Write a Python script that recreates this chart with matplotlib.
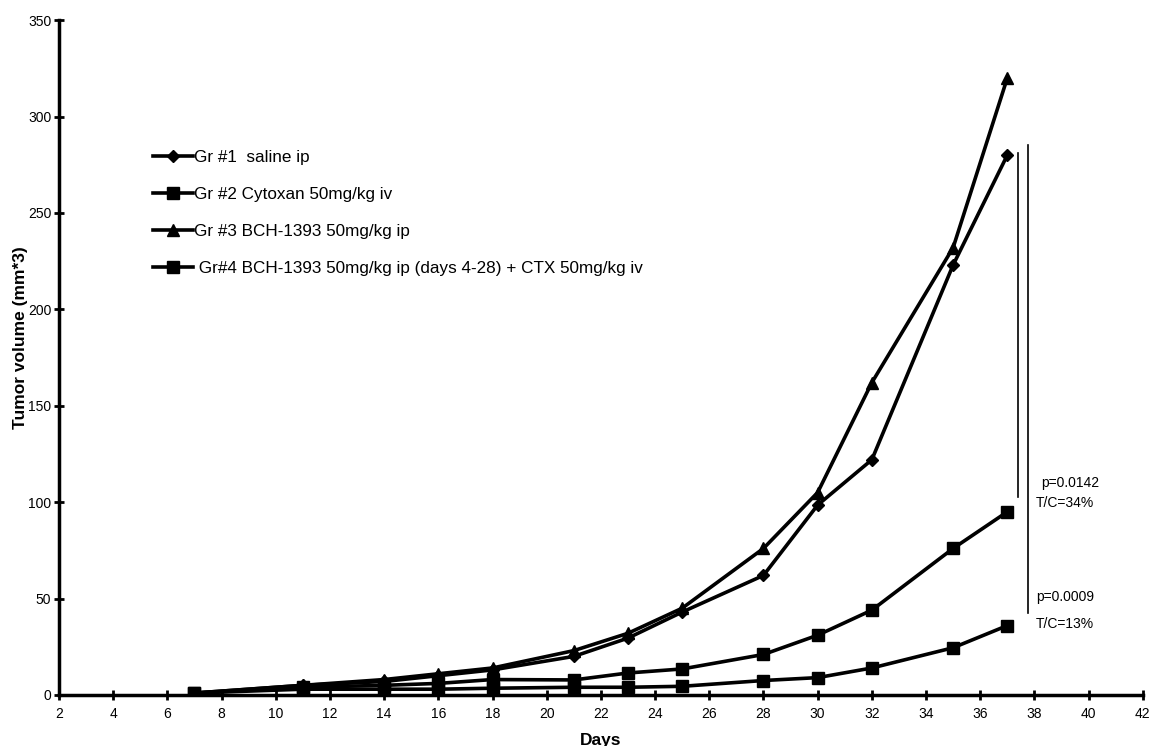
import matplotlib
matplotlib.use('Agg')
import matplotlib.pyplot as plt

plt.rcParams['font.family'] = ['Liberation Sans', 'DejaVu Sans']

# Datos
days = [7, 11, 14, 16, 18, 21, 23, 25, 28, 30, 32, 35, 37]
gr1 = [1, 5, 7, 10, 13, 20, 29.5, 43, 62, 98.5, 122, 223, 280]
gr2 = [1, 4, 5, 6, 8, 7.8, 11.4, 13.5, 21, 31, 44, 76, 95]
gr3 = [1, 5, 8, 11, 14, 23, 32, 45, 76, 105, 162, 232, 320]
gr4 = [1, 3, 3, 3, 3.5, 4, 4, 4.5, 7.5, 9, 14, 24.5, 36]

labels = ['Gr #1  saline ip',
          'Gr #2 Cytoxan 50mg/kg iv',
          'Gr #3 BCH-1393 50mg/kg ip',
          ' Gr#4 BCH-1393 50mg/kg ip (days 4-28) + CTX 50mg/kg iv']

fig = plt.figure(figsize=(11.52, 7.46), dpi=100)
ax = fig.add_axes([0.0512, 0.0684, 0.9408, 0.9046])

kw = dict(color='black', linewidth=2.6)
ax.plot(days, gr1, marker='D', markersize=6.5, label=labels[0], **kw)
ax.plot(days, gr2, marker='s', markersize=8, label=labels[1], **kw)
ax.plot(days, gr3, marker='^', markersize=9, label=labels[2], **kw)
ax.plot(days, gr4, marker='s', markersize=9, label=labels[3], **kw)

# Lineas de comparacion
ax.plot([37.4, 37.4], [281, 102.6], color='black', linewidth=1.2)
ax.plot([37.75, 37.75], [285, 42.5], color='black', linewidth=1.2)
ax.text(38.25, 110, 'p=0.0142', fontsize=10, va='center')
ax.text(38.05, 99.5, 'T/C=34%', fontsize=10, va='center')
ax.text(38.05, 50.8, 'p=0.0009', fontsize=10, va='center')
ax.text(38.05, 37, 'T/C=13%', fontsize=10, va='center')

ax.set_xlim(2, 42)
ax.set_ylim(0, 350)
ax.set_xticks(range(2, 43, 2))
ax.set_yticks(range(0, 351, 50))
ax.spines['top'].set_visible(False)
ax.spines['right'].set_visible(False)
ax.spines['left'].set_linewidth(2.5)
ax.spines['bottom'].set_linewidth(2.5)
ax.tick_params(direction='inout', length=7, width=2, labelsize=10)
ax.tick_params(axis='x', pad=5)
ax.tick_params(axis='y', pad=2)

ax.set_xlabel('Days', fontsize=12.5, fontweight='bold')
ax.set_ylabel('Tumor volume (mm*3)', fontsize=12.5, fontweight='bold')
ax.xaxis.set_label_coords(0.5, -0.056)
ax.yaxis.set_label_coords(-0.0286, 0.529)

ax.legend(loc='upper left', bbox_to_anchor=(0.087, 0.808), borderaxespad=0,
          borderpad=0, frameon=False, fontsize=12.3, labelspacing=1.3,
          handlelength=2.3, handletextpad=0.1)

fig.savefig('out.png', dpi=100, facecolor='white')
